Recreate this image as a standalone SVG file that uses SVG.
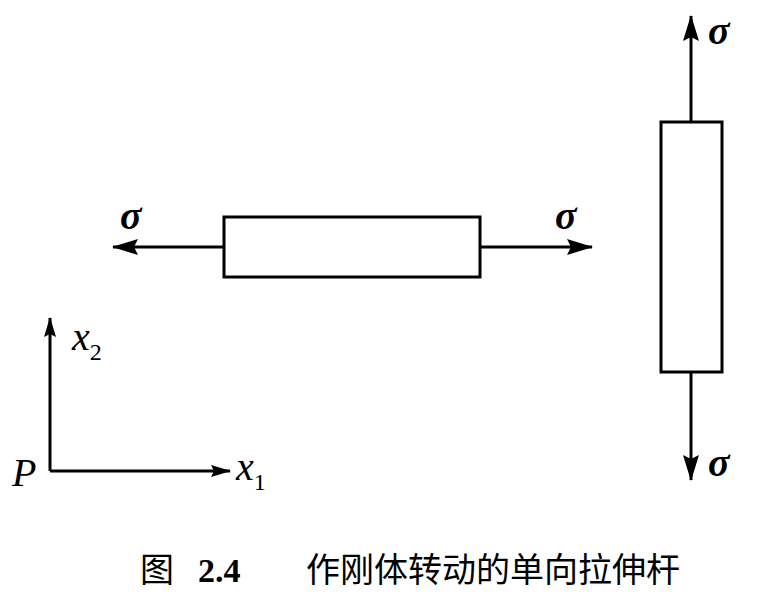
<svg xmlns="http://www.w3.org/2000/svg" width="771" height="598" viewBox="0 0 771 598">
<defs>
<marker id="ahb" markerWidth="26" markerHeight="16" refX="25" refY="8" orient="auto" markerUnits="userSpaceOnUse" viewBox="0 0 26 16">
<path d="M0,0 L26,8 L0,16 L4,8 Z" fill="#000"/>
</marker>
<marker id="ahs" markerWidth="20" markerHeight="12" refX="19" refY="6" orient="auto" markerUnits="userSpaceOnUse" viewBox="0 0 20 12">
<path d="M0,0 L20,6 L0,12 L3,6 Z" fill="#000"/>
</marker>
</defs>
<style>
.bar{fill:#fff;stroke:#000;stroke-width:3}
.ln{stroke:#000;stroke-width:3;fill:none}
.m{font-family:"Liberation Serif",serif;font-style:italic;font-size:40px}
.sg{font-family:"Liberation Serif",serif;font-style:italic;font-weight:bold;font-size:40px}
.s{font-family:"Liberation Serif",serif;font-size:24px}
.cap{font-family:"Liberation Serif","Noto Sans CJK SC",serif;font-size:34px}
</style>
<rect width="771" height="598" fill="#fff"/>
<g id="connectors">
<line class="ln" x1="224" y1="247" x2="113" y2="247" marker-end="url(#ahb)"/>
<line class="ln" x1="480" y1="247" x2="592" y2="247" marker-end="url(#ahb)"/>
<line class="ln" x1="691" y1="122" x2="691" y2="16" marker-end="url(#ahb)"/>
<line class="ln" x1="691" y1="372" x2="691" y2="480" marker-end="url(#ahb)"/>
<line class="ln" x1="50" y1="471" x2="230" y2="471" marker-end="url(#ahs)"/>
<line class="ln" x1="50" y1="471" x2="50" y2="318" marker-end="url(#ahs)"/>
</g>
<g id="hbar"><rect class="bar" x="224" y="217" width="256" height="60"/></g>
<g id="vbar"><rect class="bar" x="661" y="122" width="61" height="250"/></g>
<g id="labels">
<text class="sg" x="120" y="229">σ</text>
<text class="sg" x="555" y="229">σ</text>
<text class="sg" x="708" y="44">σ</text>
<text class="sg" x="708" y="476">σ</text>
<text class="m" x="12" y="486">P</text>
<text class="m" x="236" y="480">x<tspan class="s" font-style="normal" dy="10">1</tspan></text>
<text class="m" x="72" y="350">x<tspan class="s" font-style="normal" dy="10">2</tspan></text>
<text class="cap" x="140" y="582"><tspan>图</tspan><tspan x="198" font-weight="bold">2.4</tspan><tspan x="306">作刚体转动的单向拉伸杆</tspan></text>
</g>
</svg>
